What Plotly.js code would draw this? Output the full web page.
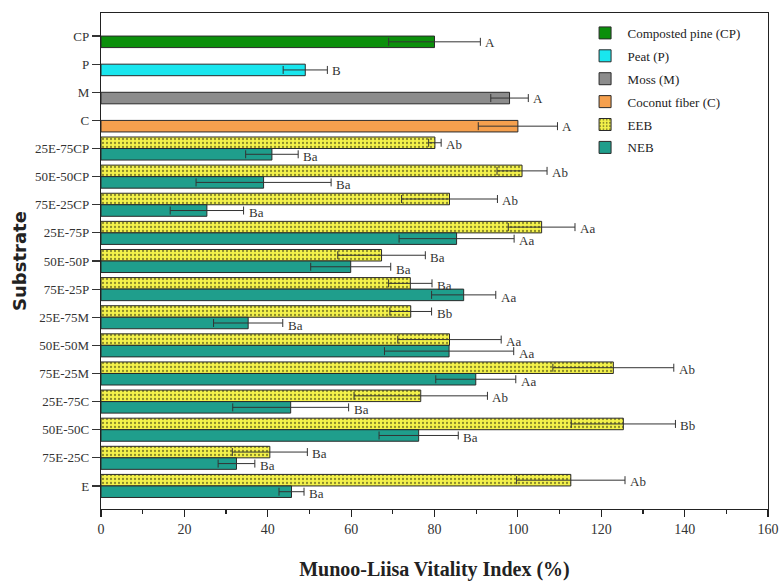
<!DOCTYPE html>
<html>
<head>
<meta charset="utf-8">
<script src="https://cdn.plot.ly/plotly-3.0.1.min.js"></script>
<style>html,body{margin:0;padding:0;background:#fff;}#chart{width:782px;height:582px;}</style>
</head>
<body>
<div id="chart"></div>
<script>
const categories = ['CP','P','M','C','25E-75CP','50E-50CP','75E-25CP','25E-75P','50E-50P','75E-25P','25E-75M','50E-50M','75E-25M','25E-75C','50E-50C','75E-25C','E'];

const mixCats = ['25E-75CP','50E-50CP','75E-25CP','25E-75P','50E-50P','75E-25P','25E-75M','50E-50M','75E-25M','25E-75C','50E-50C','75E-25C','E'];
const eebVals = [80.1, 101, 83.6, 105.7, 67.3, 74.2, 74.3, 83.6, 122.9, 76.7, 125.3, 40.5, 112.7];
const eebErr = [1.5, 6, 11.5, 8, 10.5, 5.2, 5, 12.4, 14.5, 16, 12.5, 9, 13];
const eebLetters = ['Ab','Ab','Ab','Aa','Ba','Ba','Bb','Aa','Ab','Ab','Bb','Ba','Ab'];
const nebVals = [41, 39, 25.4, 85.3, 59.9, 87, 35.3, 83.5, 89.9, 45.5, 76.2, 32.5, 45.7];
const nebErr = [6.3, 16.2, 8.8, 13.8, 9.6, 7.7, 8.3, 15.5, 9.6, 13.9, 9.5, 4.4, 3];
const nebLetters = ['Ba','Ba','Ba','Aa','Ba','Aa','Ba','Aa','Aa','Ba','Ba','Ba','Ba'];

const ctrlCats = ['CP','P','M','C'];
const ctrlNames = ['Composted pine (CP)','Peat (P)','Moss (M)','Coconut fiber (C)'];
const ctrlVals = [80, 49, 98, 100];
const ctrlErr = [11, 5.3, 4.5, 9.5];
const ctrlLetters = ['A','B','A','A'];
const ctrlColors = ['#0b8f0b','#19e6ee','#8c8c8c','#f5a04e'];

const serif = 'Liberation Serif, Times New Roman, serif';
const errStyle = {type:'data', symmetric:true, color:'#333', thickness:1, width:4};
const lineStyle = {color:'#2a2a2a', width:1};

const traces = [];
traces.push({
  type:'bar', orientation:'h', name:'EEB', y:mixCats, x:eebVals, offsetgroup:'A', legendrank:5, legendgroup:'g5',
  marker:{color:'#f4f24a', line:lineStyle, pattern:{shape:'.', fgcolor:'#8a8a2a', bgcolor:'#f4f24a', size:4, solidity:0.25}},
  error_x:Object.assign({array:eebErr}, errStyle)
});
traces.push({
  type:'bar', orientation:'h', name:'NEB', y:mixCats, x:nebVals, offsetgroup:'B', legendrank:6, legendgroup:'g6',
  marker:{color:'#1f9e8c', line:lineStyle},
  error_x:Object.assign({array:nebErr}, errStyle)
});
ctrlCats.forEach((c,i)=>{
  traces.push({
    type:'bar', orientation:'h', name:ctrlNames[i],
    y:[c], x:[ctrlVals[i]], offsetgroup:'B', legendrank:i+1, legendgroup:'g'+(i+1),
    marker:{color:ctrlColors[i], line:lineStyle},
    error_x:Object.assign({array:[ctrlErr[i]]}, errStyle)
  });
});

const annFont = {family:serif, size:13, color:'#333'};
const annotations = [];
ctrlCats.forEach((c,i)=>annotations.push({x:ctrlVals[i]+ctrlErr[i], y:c, text:ctrlLetters[i], showarrow:false, xanchor:'left', xshift:3, yshift:-6, font:annFont}));
mixCats.forEach((c,i)=>{
  annotations.push({x:eebVals[i]+eebErr[i], y:c, text:eebLetters[i], showarrow:false, xanchor:'left', xshift:3, yshift:4, font:annFont});
  annotations.push({x:nebVals[i]+nebErr[i], y:c, text:nebLetters[i], showarrow:false, xanchor:'left', xshift:3, yshift:-8, font:annFont});
});

const layout = {
  width:782, height:582,
  margin:{l:101, r:14, t:13, b:73},
  paper_bgcolor:'#fff', plot_bgcolor:'#fff',
  barmode:'group', bargap:0.18, bargroupgap:0,
  showlegend:true,
  legend:{x:0.722, y:0.99, xanchor:'left', yanchor:'top', bgcolor:'rgba(255,255,255,1)', font:{family:serif, size:13, color:'#222'}, traceorder:'grouped', tracegroupgap:3, itemwidth:35},
  xaxis:{
    range:[0,160], dtick:20, tick0:0, ticks:'outside', ticklen:7, tickwidth:1.2, tickcolor:'#222',
    minor:{dtick:10, ticks:'outside', ticklen:4, tickcolor:'#222'},
    showgrid:false, zeroline:false, showline:true, linecolor:'#222', linewidth:1.2, mirror:true,
    tickfont:{family:serif, size:14, color:'#333'},
    title:{text:'<b>Munoo-Liisa Vitality Index (%)</b>', font:{family:serif, size:20, color:'#222'}, standoff:26}
  },
  yaxis:{
    type:'category', categoryorder:'array', categoryarray:categories,
    range:[16.82, -0.82], autorange:false,
    ticks:'outside', ticklen:8, tickwidth:1.2, tickcolor:'#333',
    showgrid:false, zeroline:false, showline:true, linecolor:'#222', linewidth:1.2, mirror:true,
    tickfont:{family:serif, size:13, color:'#333'},
    title:{text:'<b>Substrate</b>', font:{family:'DejaVu Sans, Arial, sans-serif', size:18, color:'#222'}, standoff:3}
  },
  annotations:annotations
};

Plotly.newPlot('chart', traces, layout, {displayModeBar:false, staticPlot:true});
</script>
</body>
</html>
